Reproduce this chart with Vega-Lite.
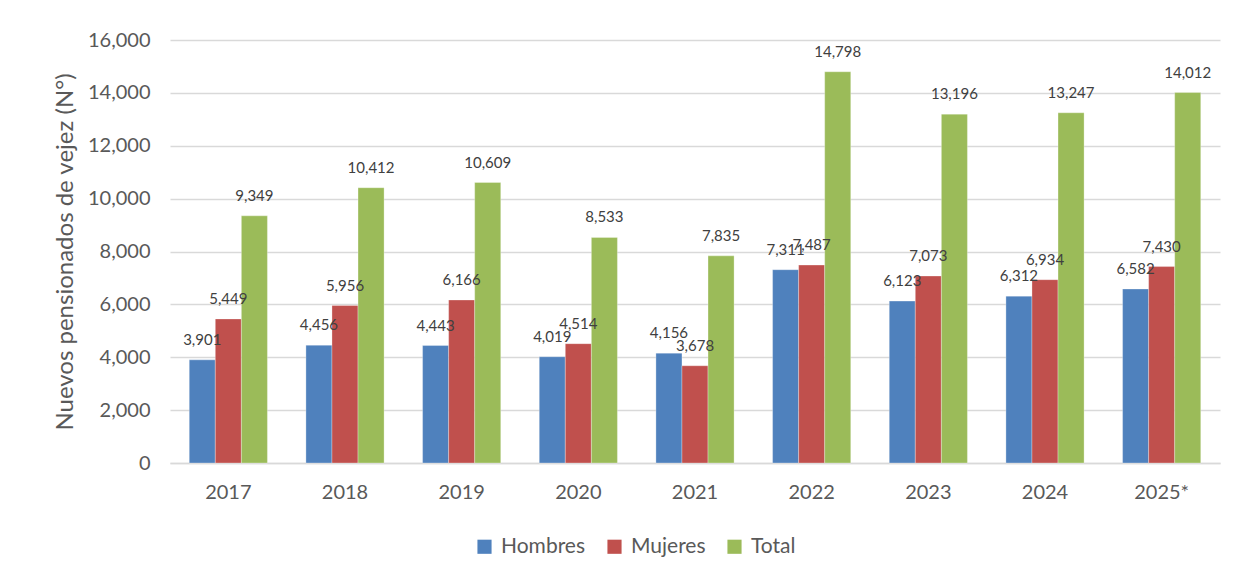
{
  "$schema": "https://vega.github.io/schema/vega-lite/v6.json",
  "autosize": {"type": "none"},
  "width": 1050,
  "height": 423,
  "padding": {"left": 170, "top": 40, "right": 13, "bottom": 114},
  "background": "white",
  "config": {
    "font": "Lato",
    "view": {"stroke": null},
    "axis": {"labelColor": "#595959", "titleColor": "#595959", "labelFont": "Lato", "titleFont": "Lato"}
  },
  "data": {
    "values": [
      {"year": "2017", "serie": "Hombres", "valor": 3901},
      {"year": "2017", "serie": "Mujeres", "valor": 5449},
      {"year": "2017", "serie": "Total", "valor": 9349},
      {"year": "2018", "serie": "Hombres", "valor": 4456},
      {"year": "2018", "serie": "Mujeres", "valor": 5956},
      {"year": "2018", "serie": "Total", "valor": 10412},
      {"year": "2019", "serie": "Hombres", "valor": 4443},
      {"year": "2019", "serie": "Mujeres", "valor": 6166},
      {"year": "2019", "serie": "Total", "valor": 10609},
      {"year": "2020", "serie": "Hombres", "valor": 4019},
      {"year": "2020", "serie": "Mujeres", "valor": 4514},
      {"year": "2020", "serie": "Total", "valor": 8533},
      {"year": "2021", "serie": "Hombres", "valor": 4156},
      {"year": "2021", "serie": "Mujeres", "valor": 3678},
      {"year": "2021", "serie": "Total", "valor": 7835},
      {"year": "2022", "serie": "Hombres", "valor": 7311},
      {"year": "2022", "serie": "Mujeres", "valor": 7487},
      {"year": "2022", "serie": "Total", "valor": 14798},
      {"year": "2023", "serie": "Hombres", "valor": 6123},
      {"year": "2023", "serie": "Mujeres", "valor": 7073},
      {"year": "2023", "serie": "Total", "valor": 13196},
      {"year": "2024", "serie": "Hombres", "valor": 6312},
      {"year": "2024", "serie": "Mujeres", "valor": 6934},
      {"year": "2024", "serie": "Total", "valor": 13247},
      {"year": "2025*", "serie": "Hombres", "valor": 6582},
      {"year": "2025*", "serie": "Mujeres", "valor": 7430},
      {"year": "2025*", "serie": "Total", "valor": 14012}
    ]
  },
  "encoding": {
    "x": {
      "field": "year", "type": "nominal", "sort": null,
      "scale": {"paddingInner": 0.33, "paddingOuter": 0.165},
      "axis": {"title": null, "labelAngle": 0, "labelFontSize": 20, "ticks": false, "labelPadding": 19, "domainColor": "#D9D9D9", "domainWidth": 1.5, "grid": false}
    },
    "xOffset": {"field": "serie", "type": "nominal", "sort": ["Hombres", "Mujeres", "Total"]},
    "y": {
      "field": "valor", "type": "quantitative",
      "scale": {"domain": [0, 16000], "nice": false},
      "axis": {"title": "Nuevos pensionados de vejez (N°)", "titleFontSize": 24, "titleFontWeight": "normal", "titlePadding": 10, "labelFontSize": 20, "format": ",d", "values": [0,2000,4000,6000,8000,10000,12000,14000,16000], "labelOverlap": false, "ticks": false, "labelPadding": 20, "domain": false, "gridColor": "#D9D9D9", "gridWidth": 1.5}
    }
  },
  "layer": [
    {
      "mark": {"type": "bar", "stroke": "white", "strokeWidth": 0.5, "strokeOpacity": 0.6},
      "encoding": {
        "color": {
          "field": "serie", "type": "nominal",
          "scale": {"domain": ["Hombres", "Mujeres", "Total"], "range": ["#4F81BD", "#C0504D", "#9BBB59"]},
          "legend": {"title": null, "orient": "none", "legendX": 304, "legendY": 496, "direction": "horizontal", "symbolType": "square", "symbolSize": 200, "symbolStrokeWidth": 0, "labelFontSize": 21, "labelColor": "#595959", "columnPadding": 18, "labelOffset": 6}
        }
      }
    },
    {
      "mark": {"type": "text", "baseline": "bottom", "dy": -12, "fontSize": 15, "color": "#404040"},
      "encoding": {
        "text": {"field": "valor", "type": "quantitative", "format": ",d"}
      }
    }
  ]
}
